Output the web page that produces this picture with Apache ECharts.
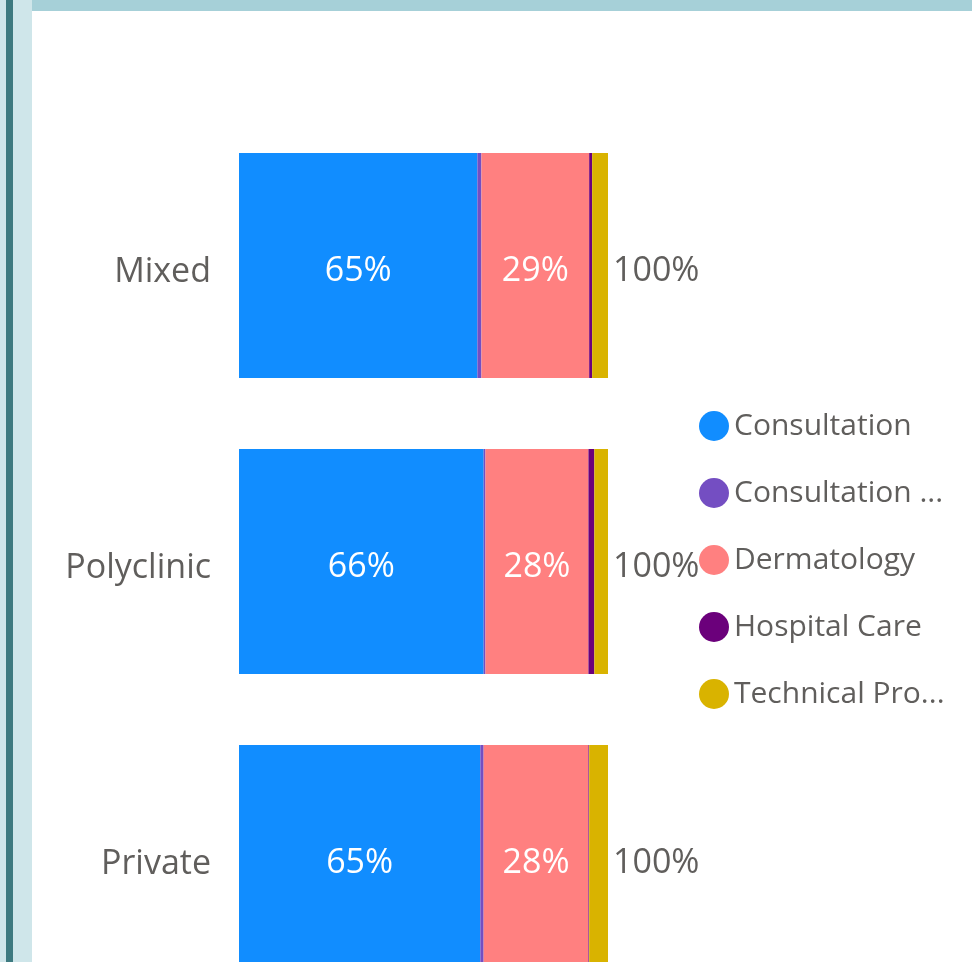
<!DOCTYPE html>
<html>
<head>
<meta charset="utf-8">
<script src="https://cdn.jsdelivr.net/npm/echarts@6/dist/echarts.min.js"></script>
<style>
  html, body { margin: 0; padding: 0; background: #fff; overflow: hidden; }
  #main { width: 972px; height: 1006px; }
</style>
</head>
<body>
<div id="main"></div>
<script>
// categories (top to bottom)
var categories = ["Mixed", "Polyclinic", "Private"];
// share of each type, in percent
var consultation = [64.6, 66.3, 65.4];
var consultationOther = [1.1, 0.5, 0.9];
var dermatology = [29.2, 27.9, 28.4];
var hospitalCare = [0.8, 1.6, 0.2];
var technicalPro = [4.3, 3.7, 5.1];

var seriesNames = ["Consultation", "Consultation ...", "Dermatology", "Hospital Care", "Technical Pro..."];
var seriesColors = ["#118DFF", "#744EC2", "#FF8080", "#6B007B", "#D9B300"];
var seriesData = [consultation, consultationOther, dermatology, hospitalCare, technicalPro];

var textGray = "#605E5C";
var fontFamily = "'Open Sans', sans-serif";

//总计 per category
var totals = categories.map(function (c, i) {
  var s = 0;
  seriesData.forEach(function (d) { s += d[i]; });
  return s;
});

var chart = echarts.init(document.getElementById("main"));

var series = seriesData.map(function (d, k) {
  var label = { show: false };
  if (k === 0 || k === 2) {
    label = {
      show: true,
      position: "inside",
      offset: [0, 6],
      color: "#fff",
      fontSize: 34,
      fontFamily: fontFamily,
      formatter: function (p) { return Math.round(p.value) + "%"; }
    };
  }
  if (k === seriesData.length - 1) {
    label = {
      show: true,
      position: "right",
      distance: 5,
      offset: [0, 6],
      color: textGray,
      fontSize: 34,
      fontFamily: fontFamily,
      formatter: function (p) { return Math.round(totals[p.dataIndex]) + "%"; }
    };
  }
  return {
    name: seriesNames[k],
    type: "bar",
    stack: "total",
    barCategoryGap: "24%",
    itemStyle: { color: seriesColors[k] },
    label: label,
    data: d
  };
});

chart.setOption({
  animation: false,
  color: seriesColors,
  graphic: [
    { type: "rect", shape: { x: 0, y: 0, width: 32, height: 1006 }, style: { fill: "#CFE6EA" } },
    { type: "rect", shape: { x: 6, y: 0, width: 7, height: 1006 }, style: { fill: "#3E7A80" } },
    { type: "rect", shape: { x: 32, y: 0, width: 940, height: 11 }, style: { fill: "#A6D0D8" } }
  ],
  grid: { left: 239, right: 364, top: 117.5, height: 888 },
  legend: {
    orient: "vertical",
    left: 694,
    top: 406,
    icon: "circle",
    itemWidth: 30,
    itemHeight: 30,
    itemGap: 37,
    textStyle: { color: textGray, fontSize: 30, fontFamily: fontFamily },
    data: seriesNames
  },
  xAxis: {
    type: "value",
    min: 0,
    max: 100,
    show: false
  },
  yAxis: {
    type: "category",
    inverse: true,
    data: categories,
    axisLine: { show: false },
    axisTick: { show: false },
    axisLabel: {
      margin: 28,
      formatter: function (v) { return "{c|" + v + "}"; },
      rich: {
        c: { color: textGray, fontSize: 34, fontFamily: fontFamily, padding: [14, 0, 0, 0] }
      }
    }
  },
  series: series
});
</script>
</body>
</html>
